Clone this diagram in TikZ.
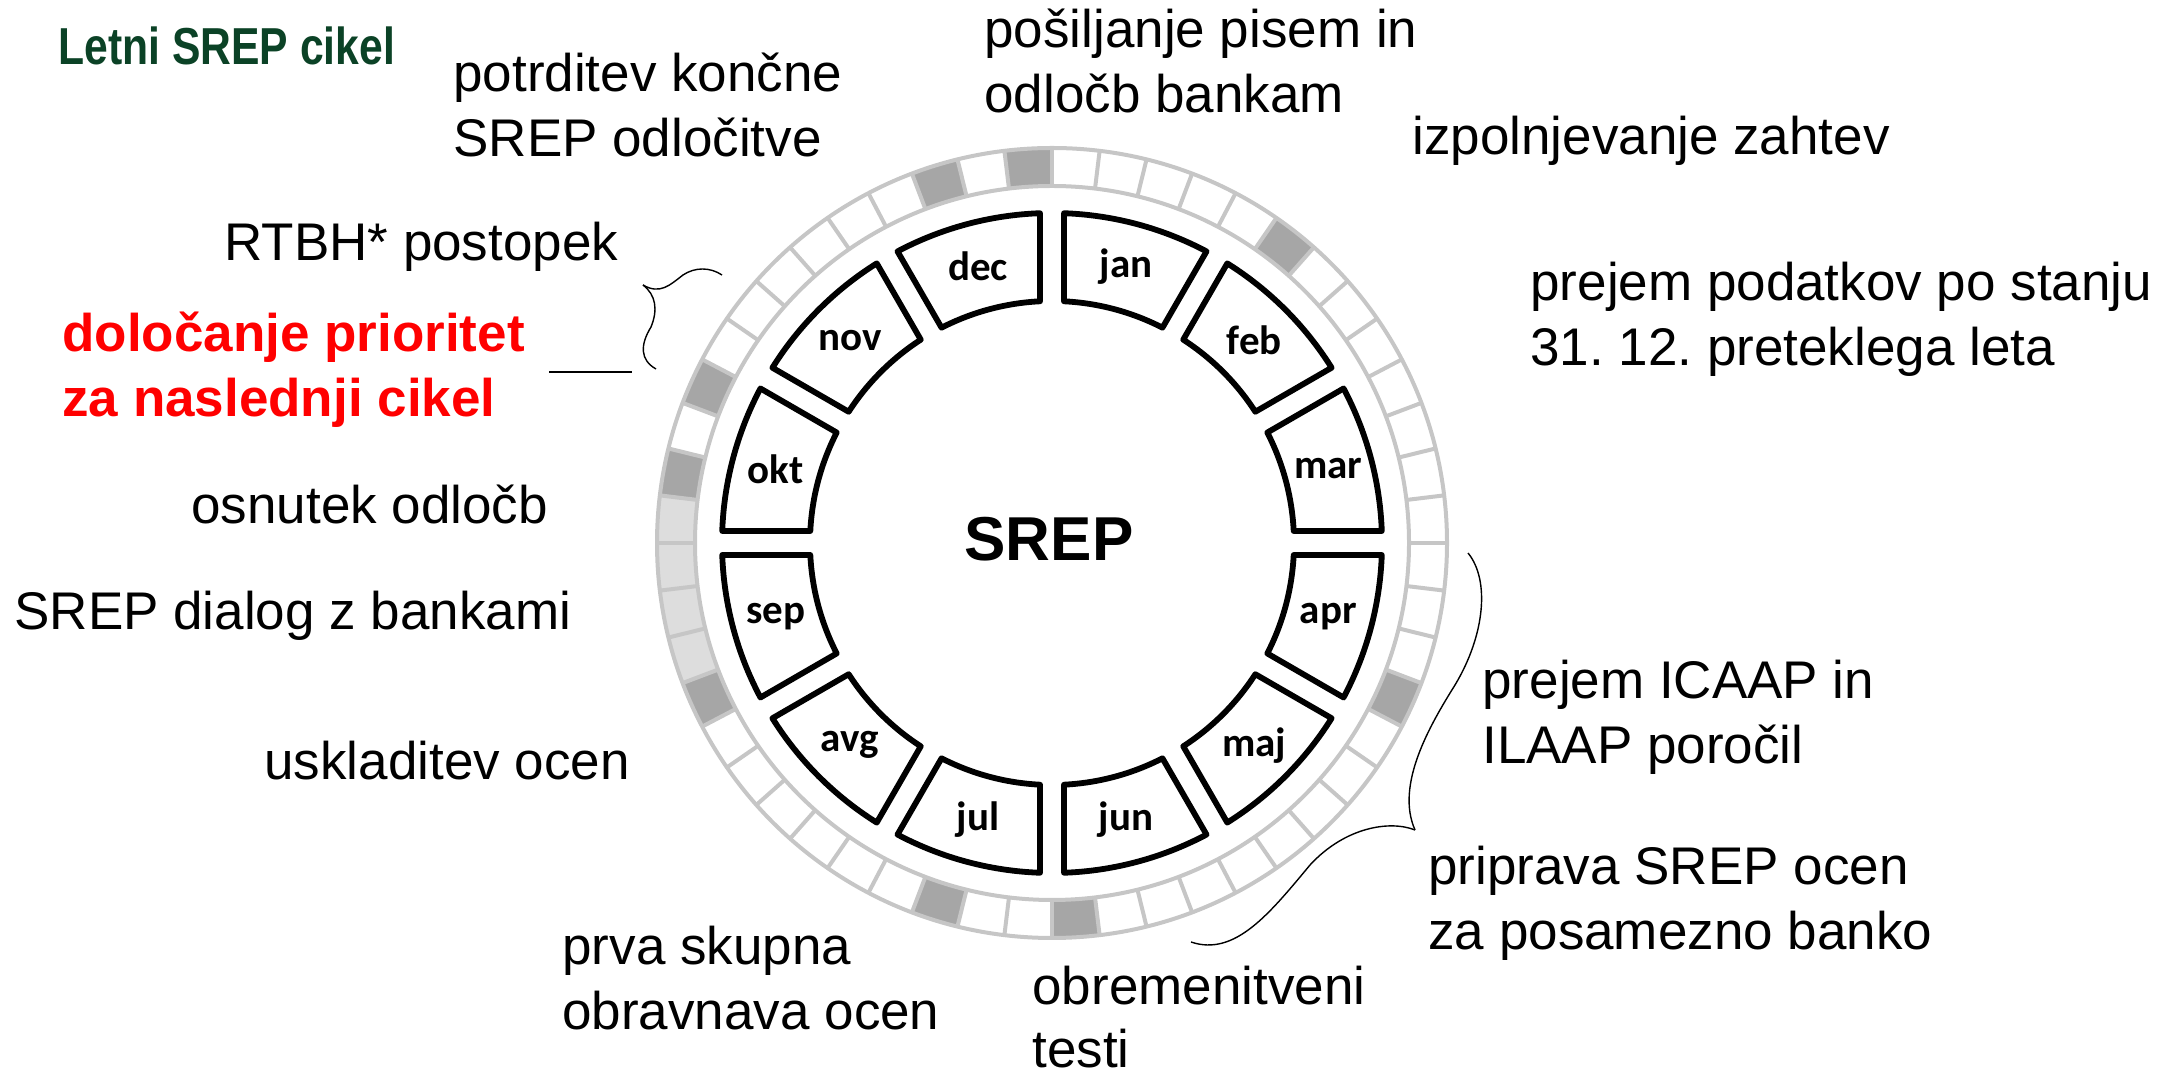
\documentclass[tikz,border=0pt]{standalone}
\usepackage{fontspec}
\setmainfont{Liberation Sans}
\newfontfamily\monthfont{Carlito}
\newfontfamily\narrowfont[FakeStretch=0.82]{Liberation Sans}
\definecolor{ringgray}{HTML}{C6C6C6}
\definecolor{weekdark}{HTML}{A6A6A6}
\definecolor{weeklight}{HTML}{DDDDDD}
\definecolor{titlegreen}{HTML}{0B4226}
\frenchspacing
\tikzset{
    ring/.style={ringgray, line width=2pt},
    monthbox/.style={draw=black, fill=white, line width=2.9pt, line join=round},
    monthlbl/.style={font=\monthfont\bfseries\fontsize{20.5}{24}\selectfont, inner sep=0pt},
    txt/.style={font=\fontsize{26.5}{32.5}\selectfont, align=left, anchor=west, inner sep=0pt},
    brace/.style={black, line width=0.7pt}
}
\begin{document}
\begin{tikzpicture}[x=0.5pt, y=0.5pt]
    \useasboundingbox (0,0) rectangle (2167,1075);

    \begin{scope}[shift={(1052,532)}]
    \foreach \k [evaluate=\k as \a using {90-\k*6.923077}, evaluate=\k as \b using {90-(\k+1)*6.923077}] in {5,16,25,28,35,40,42,49,51}
        \fill[weekdark] (\a:357) arc[start angle=\a, end angle=\b, radius=357] -- (\b:395) arc[start angle=\b, end angle=\a, radius=395] -- cycle;
    \foreach \k [evaluate=\k as \a using {90-\k*6.923077}, evaluate=\k as \b using {90-(\k+1)*6.923077}] in {36,37,38,39}
        \fill[weeklight] (\a:357) arc[start angle=\a, end angle=\b, radius=357] -- (\b:395) arc[start angle=\b, end angle=\a, radius=395] -- cycle;
    \draw[ring] (0,0) circle[radius=395];
    \draw[ring] (0,0) circle[radius=357];
    \foreach \k [evaluate=\k as \a using {90-\k*6.923077}] in {0,...,51}
        \draw[ring] (\a:357) -- (\a:395);

    \foreach \m [count=\i from 0] in {jan,feb,mar,apr,maj,jun,jul,avg,sep,okt,nov,dec} {
        \pgfmathsetmacro\hiO{90-30*\i-2.08}
        \pgfmathsetmacro\hiI{90-30*\i-2.84}
        \pgfmathsetmacro\loO{60-30*\i+2.08}
        \pgfmathsetmacro\loI{60-30*\i+2.84}
        \pgfmathsetmacro\mid{75-30*\i}
        \draw[monthbox] (\hiI:242) -- (\hiO:330) arc[start angle=\hiO, end angle=\loO, radius=330] -- (\loI:242) arc[start angle=\loI, end angle=\hiI, radius=242] -- cycle;
        \node[monthlbl] (\m) at (\mid:286) {\m};
    }
    \end{scope}

    \node[font=\bfseries\fontsize{31}{36}\selectfont] (srep) at (1049,536) {SREP};

    \node[txt, titlegreen, font=\narrowfont\bfseries\fontsize{26}{30}\selectfont] (title) at (58,1029) {Letni SREP cikel};
    \node[txt] (potrditev) at (453,970) {potrditev končne\\SREP odločitve};
    \node[txt] (posiljanje) at (984,1014) {pošiljanje pisem in\\odločb bankam};
    \node[txt] (izpolnjevanje) at (1412,934) {izpolnjevanje zahtev};
    \node[txt] (podatki) at (1530,756) {prejem podatkov po stanju\\31. 12. preteklega leta};
    \node[txt] (rtbh) at (224,828) {RTBH* postopek};
    \node[txt, red, font=\bfseries\fontsize{26.5}{32.5}\selectfont] (prioritete) at (62,705) {določanje prioritet\\za naslednji cikel};
    \node[txt] (osnutek) at (191,571) {osnutek odločb};
    \node[txt] (dialog) at (14,459) {SREP dialog z bankami};
    \node[txt] (uskladitev) at (264,314) {uskladitev ocen};
    \node[txt] (obravnava) at (562,97) {prva skupna\\obravnava ocen};
    \node[txt, font=\fontsize{26.5}{31.5}\selectfont] (testi) at (1032,58) {obremenitveni\\testi};
    \node[txt] (icaap) at (1482,358) {prejem ICAAP in\\ILAAP poročil};
    \node[txt] (priprava) at (1428,172) {priprava SREP ocen\\za posamezno banko};

    \coordinate (lineL) at (549,703);
    \coordinate (lineR) at (632,703);
    \draw[brace] (lineL) -- (lineR);

    \coordinate (tipA) at (643,790);
    \draw[brace] (tipA) .. controls (660,780) and (670,790) .. (683,800) .. controls (695,808) and (710,808) .. (722,800);
    \draw[brace] (tipA) .. controls (656,780) and (658,765) .. (651,748) .. controls (640,730) and (640,715) .. (656,706);

    \coordinate (tipB) at (1415,245);
    \draw[brace] (1468,522) .. controls (1490,495) and (1485,440) .. (1455,390) .. controls (1430,350) and (1395,290) .. (tipB);
    \draw[brace] (tipB) .. controls (1390,255) and (1345,248) .. (1310,210) .. controls (1270,162) and (1235,118) .. (1191,133);
\end{tikzpicture}
\end{document}
